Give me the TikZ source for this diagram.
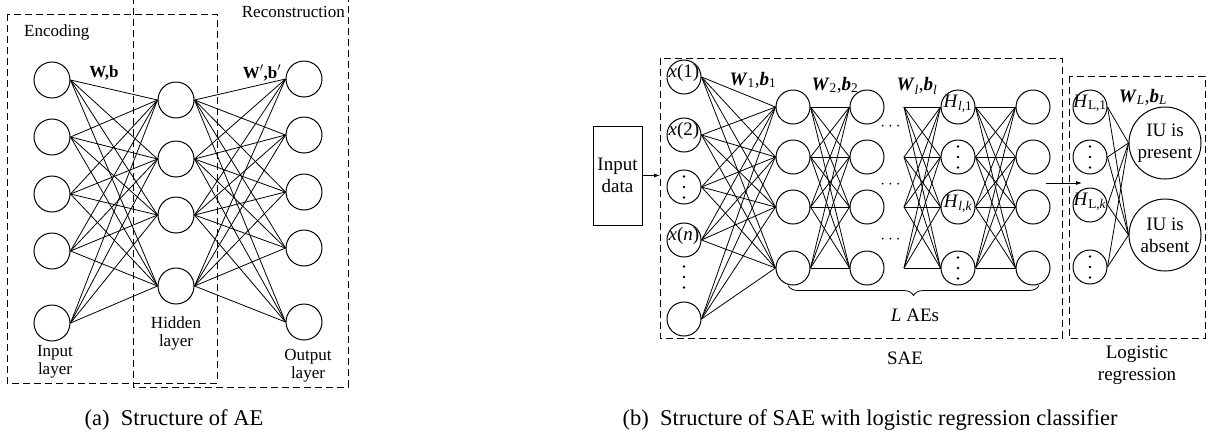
\documentclass[tikz,border=0pt]{standalone}
\usepackage{amsmath}
\usepackage{fontspec}
\setmainfont{Liberation Serif}
\usetikzlibrary{arrows.meta, positioning, decorations.pathreplacing}

\newcommand{\inlbl}[1]{\smash{\makebox[0pt]{#1}}}
\newcommand{\bi}[1]{\textbf{\textit{#1}}}

\tikzset{
  >={Latex[length=6pt,width=4pt]},
  neuron/.style={draw, circle, line width=1pt, minimum size=36pt, inner sep=0pt},
  sneuron/.style={neuron, minimum size=34pt, font=\fontsize{19}{22}\selectfont},
  dotneuron/.style={sneuron, path picture={
      \foreach \k in {-1,0,1}
        \fill (path picture bounding box.center) ++(0,\k*10.5) circle (1.3pt);}},
  link/.style={line width=0.8pt},
  frame/.style={draw, line width=0.8pt, dash pattern=on 7pt off 4pt},
  atxt/.style={font=\fontsize{17}{18}\selectfont, align=center, inner sep=0pt},
  btxt/.style={font=\fontsize{19}{22}\selectfont, align=center, inner sep=0pt},
  captext/.style={font=\fontsize{22.5}{24}\selectfont, inner sep=0pt}
}

\begin{document}
\begin{tikzpicture}[x=1pt, y=-1pt]
\useasboundingbox (0,0) rectangle (1209,440);

% ---------- (a) AE ----------
\draw[frame] (7,14) rectangle (217,383);
\draw[frame] (133,-3) rectangle (348,387);
\node[atxt, anchor=west] (enc) at (24,32) {Encoding};
\node[atxt, anchor=east] (rec) at (345,12) {Reconstruction};

\foreach \i/\y in {1/80,2/137,3/194,4/251,5/323}
  \node[neuron] (in\i) at (52,\y) {};
\foreach \i/\y in {1/100,2/159,3/215,4/286}
  \node[neuron] (hid\i) at (176,\y) {};
\foreach \i/\y in {1/79,2/135,3/192,4/248,5/322}
  \node[neuron] (out\i) at (304,\y) {};

\foreach \i in {1,...,5}
  \foreach \j in {1,...,4} {
    \draw[link] (in\i.east) -- (hid\j.west);
    \draw[link] (hid\j.east) -- (out\i.west);
  }

\node[atxt, font=\fontsize{17}{18}\selectfont\bfseries] (wb) at (104,73) {W,b};
\node[atxt, font=\fontsize{17}{18}\selectfont\bfseries] (wbp) at (262,73) {W$'$,b$'$};
\node[atxt] (inlay) at (55,362) {Input\\layer};
\node[atxt] (hidlay) at (176,333) {Hidden\\layer};
\node[atxt] (outlay) at (308,366) {Output\\layer};

\node[captext] (capa) at (174,420) {(a)\ \ Structure of AE};

% ---------- (b) SAE + logistic regression ----------
\node[draw, line width=0.8pt, minimum width=49pt, minimum height=99pt, btxt] (inp) at (617.5,175.5) {Input\\data};
\coordinate (saein) at (660,175.5);
\draw[->, link] (inp.east) -- (saein);

\draw[frame] (660,58) rectangle (1062,338);
\draw[frame] (1069,76) rectangle (1205,338);
\node[btxt] (sae) at (905,358) {SAE};
\node[btxt] (logreg) at (1137,365) {Logistic\\regression};

% input layer
\node[sneuron] (x1) at (684,77) {\inlbl{\textit{x}(1)}};
\node[sneuron] (x2) at (684,135) {\inlbl{\textit{x}(2)}};
\node[dotneuron] (x3) at (684,187) {};
\node[sneuron] (x4) at (684,240) {\inlbl{\textit{x}(\textit{n})}};
\coordinate (xdots) at (684,277);
\foreach \k in {-1,0,1}
  \fill (xdots) ++(0,\k*10.5) circle (1.3pt);
\node[sneuron] (x5) at (684,319) {};

% hidden layers
\foreach \i/\y in {1/107,2/157,3/207,4/268} {
  \node[sneuron] (a\i) at (793,\y) {};
  \node[sneuron] (b\i) at (867,\y) {};
  \coordinate (f\i) at (904,\y);
  \node[sneuron] (d\i) at (1033,\y) {};
}
\node[sneuron] (h1) at (958,107) {\inlbl{\textit{H}\textsubscript{\textit{l},1}}};
\node[dotneuron] (h2) at (958,157) {};
\node[sneuron] (h3) at (958,207) {\inlbl{\textit{H}\textsubscript{\textit{l},\textit{k}}}};
\node[dotneuron] (h4) at (958,268) {};

\foreach \y [count=\i] in {127,185,240}
  \node[btxt] (dots\i) at (892,\y) {$\cdots$};

\foreach \i in {1,...,5}
  \foreach \j in {1,...,4}
    \draw[link] (x\i.east) -- (a\j.west);
\foreach \i in {1,...,4}
  \foreach \j in {1,...,4} {
    \draw[link] (a\i.east) -- (b\j.west);
    \draw[link] (f\i) -- (h\j.west);
    \draw[link] (h\i.east) -- (d\j.west);
  }

\node[btxt] (wb1) at (753,80) {\bi{W}\textsubscript{1},\bi{b}\textsubscript{1}};
\node[btxt] (wb2) at (835,85) {\bi{W}\textsubscript{2},\bi{b}\textsubscript{2}};
\node[btxt] (wbl) at (917,86) {\bi{W}\textsubscript{\textit{l}},\bi{b}\textsubscript{\textit{l}}};

\draw[link, decorate, decoration={brace, mirror, amplitude=10pt}]
  ([xshift=-5pt]a4.south) -- ([xshift=6pt]d4.south);
\node[btxt] (lae) at (915,315) {\textit{L} AEs};

% logistic regression
\node[sneuron] (lh1) at (1090,107) {\inlbl{\textit{H}\textsubscript{L,1}}};
\node[dotneuron] (lh2) at (1090,157) {};
\node[sneuron] (lh3) at (1090,205) {\inlbl{\textit{H}\textsubscript{L,\textit{k}}}};
\node[dotneuron] (lh4) at (1090,267) {};
\node[neuron, minimum size=72pt, btxt] (present) at (1165,143) {IU is\\present};
\node[neuron, minimum size=72pt, btxt] (absent) at (1165,235) {IU is\\absent};
\foreach \i in {1,...,4} {
  \draw[link] (lh\i.east) -- (present.west);
  \draw[link] (lh\i.east) -- (absent.west);
}
\node[btxt] (wbL) at (1143,97) {\bi{W}\textsubscript{\textit{L}},\bi{b}\textsubscript{\textit{L}}};

\coordinate (saeout) at (1046,183);
\coordinate (login) at (1082,183);
\draw[->, link] (saeout) -- (login);

\node[captext] (capb) at (870,420) {(b)\ \ Structure of SAE with logistic regression classifier};
\end{tikzpicture}
\end{document}
